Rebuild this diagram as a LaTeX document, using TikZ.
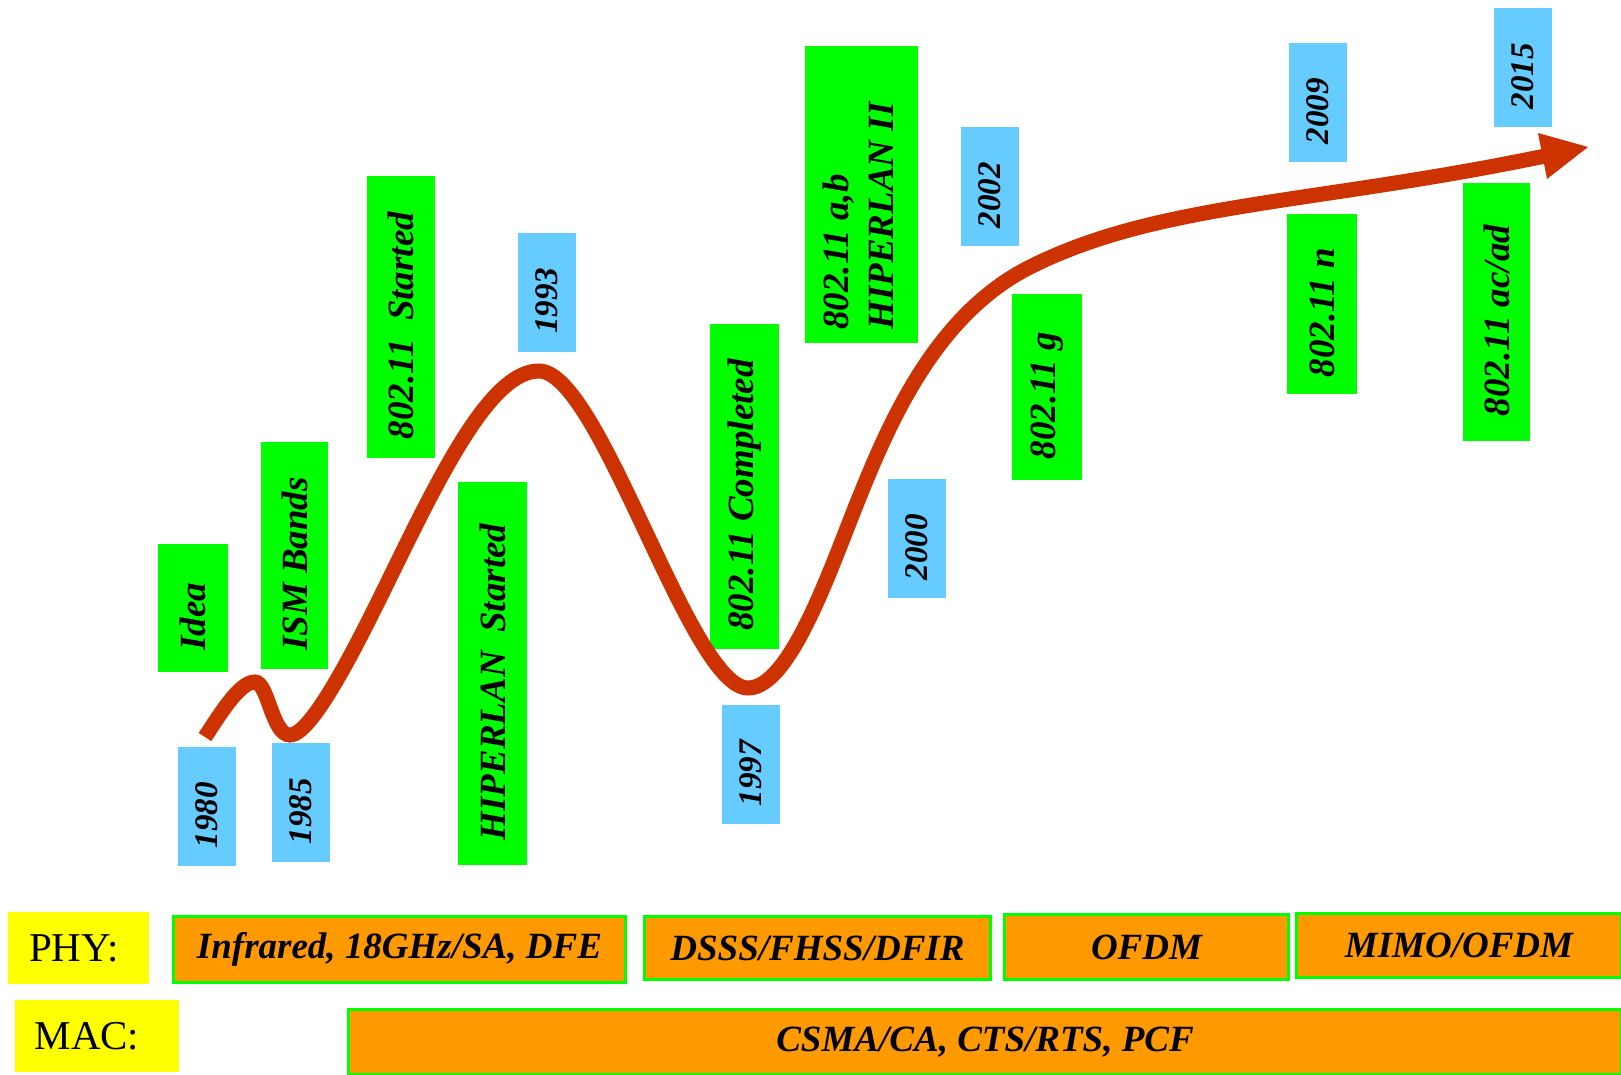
\documentclass[tikz,border=0pt]{standalone}
\usepackage{fontspec}
\setmainfont{Liberation Serif}
\definecolor{curvered}{HTML}{CC3300}
\definecolor{boxgreen}{HTML}{00FF00}
\definecolor{yearblue}{HTML}{66CCFF}
\definecolor{techorange}{HTML}{FF9900}
\definecolor{layeryellow}{HTML}{FFFF00}
\newcommand{\yearfont}{\fontsize{33}{40}\selectfont\bfseries\itshape}
\newcommand{\eventfont}{\fontsize{37}{45}\selectfont\bfseries\itshape}
\newcommand{\techfont}{\fontsize{37}{45}\selectfont\bfseries\itshape}
\newcommand{\layerfont}{\fontsize{41}{48}\selectfont}
\begin{document}
\begin{tikzpicture}[x=1pt,y=-1pt,
  year/.style={rotate=90, inner sep=0pt, fill=yearblue, font=\yearfont,
    minimum height=58pt, minimum width=119pt,
    execute at end node={\hspace{17pt}}},
  event/.style 2 args={rotate=90, inner sep=0pt, fill=boxgreen, font=\eventfont,
    minimum height=#1, minimum width=#2,
    execute at end node={\hspace{17pt}}},
  tech/.style 2 args={draw=boxgreen, line width=3pt, fill=techorange, font=\techfont,
    inner sep=0pt, minimum width=#1, minimum height=#2},
  layer/.style 2 args={fill=layeryellow, font=\layerfont, inner sep=0pt,
    minimum width=#1, minimum height=#2},
  trend/.style={draw=curvered, line width=15pt},
  trendhead/.style={fill=curvered}
]
\path[fill=white, use as bounding box] (0,0) rectangle (1621,1074);

% year boxes
\node[year] (y1980) at (207,806.5) {1980};
\node[year] (y1985) at (301,802.5) {1985};
\node[year] (y1993) at (547,292) {1993};
\node[year] (y1997) at (751,764.5) {1997};
\node[year] (y2000) at (917,538.5) {2000};
\node[year] (y2002) at (990,186.5) {2002};
\node[year] (y2009) at (1318,102.5) {2009};
\node[year] (y2015) at (1523,67.5) {2015};

% event boxes
\node[event={70pt}{128pt}] (idea) at (193,608) {Idea};
\node[event={67pt}{227pt}] (ism) at (294.5,555.5) {ISM Bands};
\node[event={68pt}{282pt}] (started) at (401,317) {802.11\enskip Started};
\node[event={69pt}{383pt}] (hiperlan) at (492.5,673.5) {HIPERLAN\enskip Started};
\node[event={69pt}{325pt}] (completed) at (744.5,486.5) {802.11 Completed};
\node[event={113pt}{297pt}, execute at end node={\hspace{26pt}}] (ab) at (861.5,194.5)
  {\begin{tabular}{@{}l@{}}802.11 a,b\\HIPERLAN II\end{tabular}};
\node[event={70pt}{186pt}] (g) at (1047,387) {802.11 g};
\node[event={70pt}{180pt}] (n) at (1322,304) {802.11 n};
\node[event={67pt}{258pt}] (acad) at (1496.5,312) {802.11 ac/ad};

% layer rows
\node[layer={141pt}{72pt}, execute at end node={\hspace{9pt}}] (phy) at (78.5,948) {PHY:};
\node[layer={164pt}{72pt}, execute at end node={\hspace{20pt}}] (mac) at (97,1036) {MAC:};
\node[tech={452pt}{66pt}] (ir) at (399.5,949.5) {Infrared, 18GHz/SA, DFE};
\node[tech={346pt}{63pt}] (dsss) at (817.5,948) {DSSS/FHSS/DFIR};
\node[tech={284pt}{65pt}] (ofdm) at (1146.5,947) {OFDM};
\node[tech={325pt}{64pt}] (mimo) at (1459,945.5) {MIMO/OFDM};
\node[tech={1273pt}{65pt}] (csma) at (985,1042) {CSMA/CA, CTS/RTS, PCF};

% trend curve
\coordinate (c0) at (205,737);
\coordinate (c1) at (255,682);
\coordinate (c2) at (290,735);
\coordinate (c3) at (400,557);
\coordinate (c4) at (539,371);
\coordinate (c5) at (748,688);
\coordinate (c6) at (857,503);
\coordinate (c7) at (1030,267);
\coordinate (c9) at (1550,155);
\draw[trend] (c0) .. controls (222,711) and (240,682) .. (c1)
  .. controls (268,682) and (272,735) .. (c2)
  .. controls (315,735) and (370,618) .. (c3)
  .. controls (450,455) and (495,371) .. (c4)
  .. controls (600,371) and (690,688) .. (c5)
  .. controls (790,688) and (830,570) .. (c6)
  .. controls (889,423) and (935,315) .. (c7)
  .. controls (1160,202) and (1310,205) .. (c9);
\coordinate (hA) at (1538,133);
\coordinate (hT) at (1588,147);
\coordinate (hB) at (1547,179);
\fill[trendhead] (hA) -- (hT) -- (hB) -- cycle;
\end{tikzpicture}
\end{document}
